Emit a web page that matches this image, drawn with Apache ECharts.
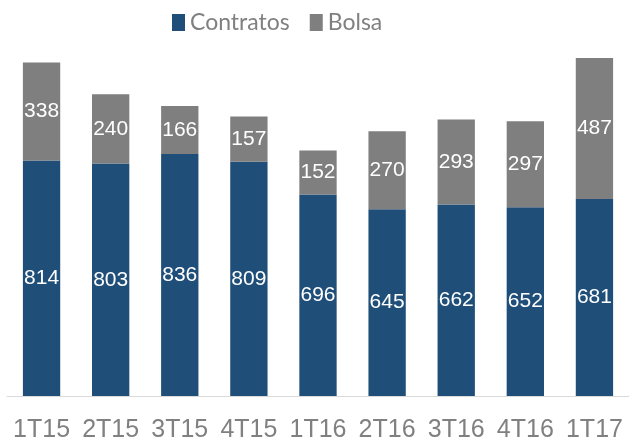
<!DOCTYPE html>
<html><head><meta charset="utf-8">
<script src="https://cdn.jsdelivr.net/npm/echarts@6/dist/echarts.min.js"></script>
<style>html,body{margin:0;padding:0;background:#fff}#c{width:629px;height:443px}</style>
</head><body><div id="c"></div>
<script>
var categories = ['1T15','2T15','3T15','4T15','1T16','2T16','3T16','4T16','1T17'];
var contratos = [814,803,836,809,696,645,662,652,681];
var bolsa = [338,240,166,157,152,270,293,297,487];
var seriesNames = ['Contratos','Bolsa'];
var chart = echarts.init(document.getElementById('c'));
var lbl = {show:true, position:'inside', color:'#fff', fontSize:21, fontFamily:'Liberation Sans'};
chart.setOption({
  animation:false,
  legend:{left:167, top:6, itemWidth:13, itemHeight:17, itemGap:20, icon:'rect',
    textStyle:{fontSize:23, color:'#808080', fontFamily:'Lato'},
    data:seriesNames},
  grid:{left:7, right:-3, top:48.7, bottom:45.3, containLabel:false},
  xAxis:{type:'category', data:categories,
    axisLine:{lineStyle:{color:'#d9d9d9', width:1}}, axisTick:{show:false},
    axisLabel:{fontSize:25, color:'#808080', fontFamily:'Liberation Sans', margin:22, interval:0}},
  yAxis:{type:'value', min:0, max:1200, show:false, splitLine:{show:false}},
  series:[
    {name:seriesNames[0], type:'bar', stack:'a', data:contratos, barWidth:'54%',
     itemStyle:{color:'#1F4E79'}, label:lbl},
    {name:seriesNames[1], type:'bar', stack:'a', data:bolsa, barWidth:'54%',
     itemStyle:{color:'#7F7F7F'}, label:lbl}
  ]
});
</script></body></html>
